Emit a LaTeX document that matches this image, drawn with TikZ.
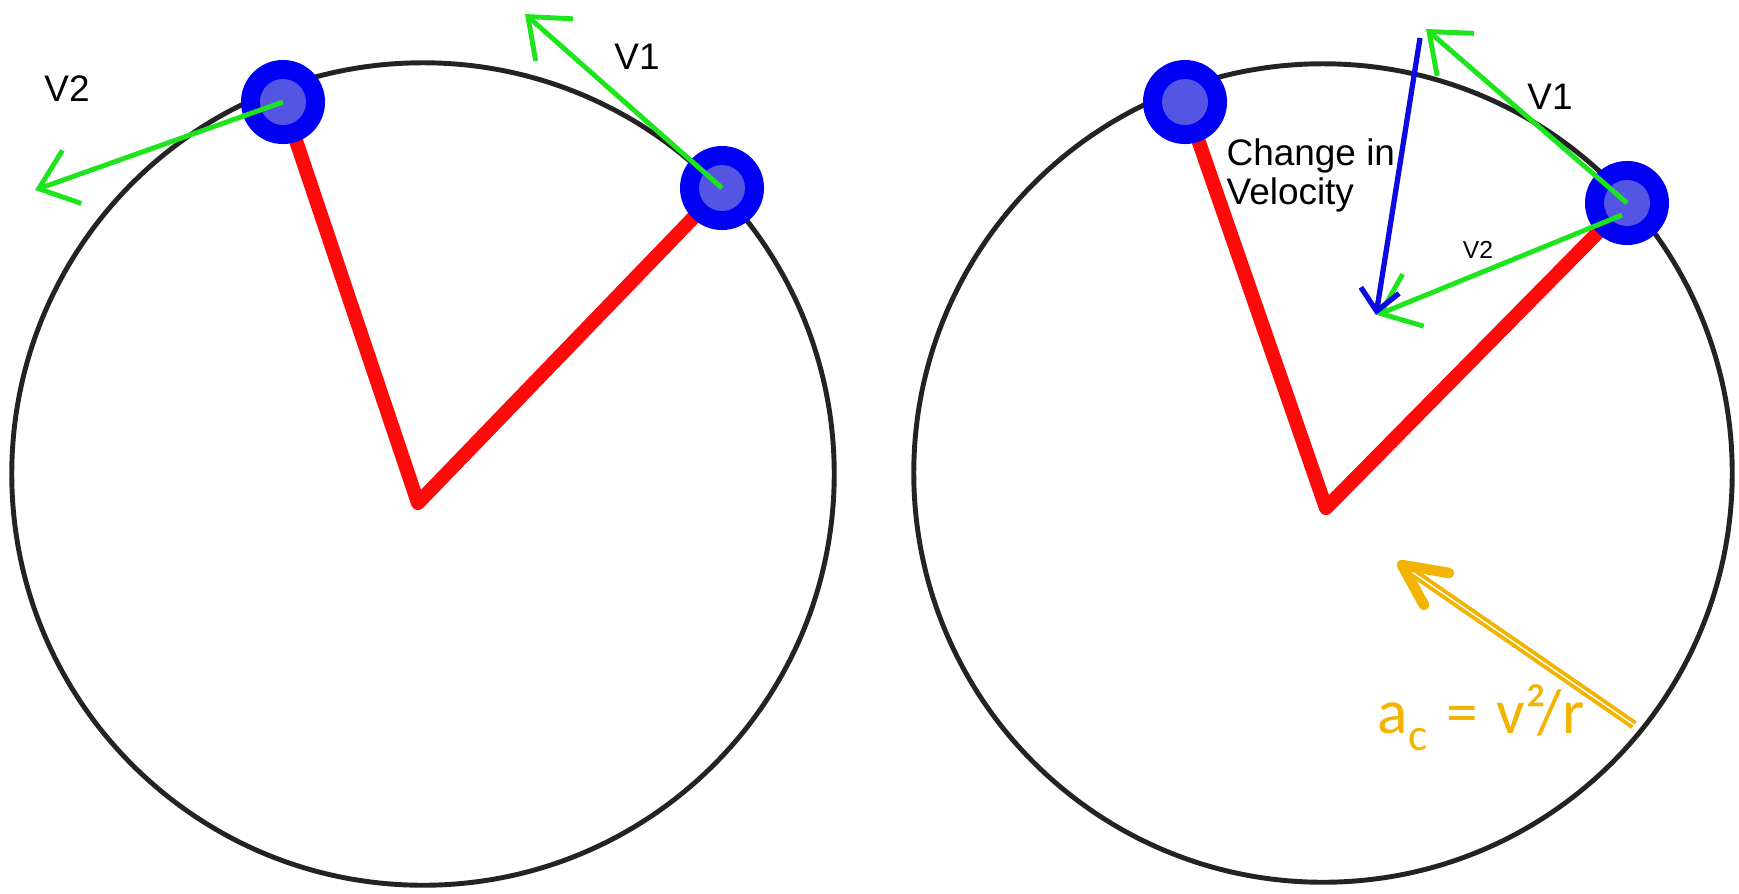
\documentclass[tikz,border=0pt]{standalone}
\usepackage{fontspec}
\setmainfont{Liberation Sans}
\newfontfamily\calfont{Carlito}
\usepackage{tikz}
\usetikzlibrary{arrows.meta, positioning}

\definecolor{ringgray}{RGB}{35,35,35}
\definecolor{spokered}{RGB}{255,10,10}
\definecolor{ballblue}{RGB}{0,0,245}
\definecolor{ballcore}{RGB}{85,85,228}
\definecolor{velgreen}{RGB}{30,228,30}
\definecolor{dvblue}{RGB}{10,10,225}
\definecolor{accorange}{RGB}{242,180,0}

\begin{document}
\begin{tikzpicture}[
    x=0.01cm, y=-0.01cm,
    ring/.style={draw=ringgray, line width=1.4pt},
    spoke/.style={spokered, line width=4pt, line cap=round, line join=round},
    ball/.style={circle, fill=ballblue, minimum size=0.84cm, inner sep=0pt,
        path picture={\fill[ballcore] (path picture bounding box.center) circle (0.23cm);}},
    vel/.style={velgreen, line width=1.4pt, -{Straight Barb[length=10pt, width=16pt]}},
    dv/.style={dvblue, line width=1.5pt, -{Straight Barb[length=6pt, width=11pt]}},
    acc/.style={accorange, line width=1.1pt, double=white, double distance=0.4pt},
    acchead/.style={accorange, line width=3pt, line cap=round, line join=round},
    lbl/.style={font=\fontsize{10.5}{11.1}\selectfont, inner sep=0pt},
    small lbl/.style={font=\fontsize{7}{8}\selectfont, inner sep=0pt}
]
    \useasboundingbox (0,0) rectangle (1739,893);

    \coordinate (LO) at (418,503);
    \coordinate (LA) at (283,102);
    \coordinate (LB) at (722,188);
    \coordinate (LV2) at (35,190);
    \coordinate (LV1) at (525,14);

    \coordinate (RO) at (1326,508);
    \coordinate (RA) at (1185,102);
    \coordinate (RB) at (1627,203);
    \coordinate (RBv) at (1622,215);
    \coordinate (RV1) at (1426,29);
    \coordinate (RV2) at (1377,315);
    \coordinate (DVs) at (1420,38);
    \coordinate (DVe) at (1376,315);
    \coordinate (ACs) at (1634,725);
    \coordinate (ACe) at (1402,565);
    \coordinate (ACh1) at (1449,573);
    \coordinate (ACh2) at (1424,605);

    \draw[ring] (423,474) circle (4.11cm);
    \draw[ring] (1323,473) circle (4.09cm);

    \draw[spoke] (LA) -- (LO) -- (LB);
    \draw[spoke] (RA) -- (RO) -- (RB);

    \node[ball] (ballLA) at (LA) {};
    \node[ball] (ballLB) at (LB) {};
    \node[ball] (ballRA) at (RA) {};
    \node[ball] (ballRB) at (RB) {};

    \draw[vel] (ballLA.center) -- (LV2);
    \draw[vel] (ballLB.center) -- (LV1);
    \draw[vel] (ballRB.center) -- (RV1);
    \draw[vel] (RBv) -- (RV2);
    \draw[dv] (DVs) -- (DVe);

    \draw[acc, shorten >=4pt] (ACs) -- (ACe);
    \draw[acchead] (ACh1) -- (ACe) -- (ACh2);

    \node[lbl] (lV2) at (67,89) {V2};
    \node[lbl] (lV1) at (637,57) {V1};
    \node[lbl] (rV1) at (1550,97) {V1};
    \node[small lbl] (rV2) at (1478,250) {V2};
    \node[lbl, align=left, anchor=north west] (dvtext) at (1226,138) {Change in\\Velocity};
    \node[font=\calfont\fontsize{18}{20}\selectfont, text=accorange, anchor=base west, inner sep=0pt]
        (aclbl) at (1377,733) {a\raisebox{-5pt}{\fontsize{13}{13}\selectfont c}\hspace{0.3em}=\hspace{0.3em}v²/r};
\end{tikzpicture}
\end{document}
